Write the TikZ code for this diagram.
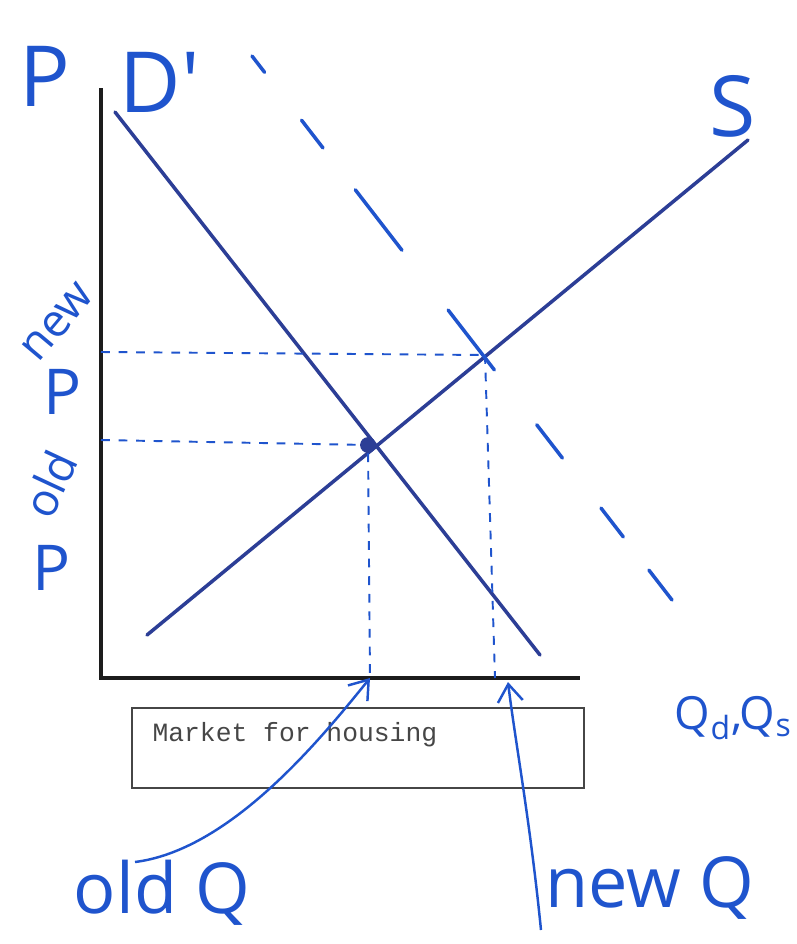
\documentclass[tikz,border=0pt]{standalone}
\usepackage{fontspec}
\newfontfamily\handfont{Open Sans}
\newfontfamily\typefont{Liberation Mono}
\usetikzlibrary{arrows.meta,calc}
\definecolor{Ink}{RGB}{31,84,205}
\definecolor{Navy}{RGB}{44,62,150}
\definecolor{AxisGrey}{RGB}{28,28,28}
\definecolor{BoxGrey}{RGB}{70,70,70}
\tikzset{
  >=Latex,
  axis/.style={draw=AxisGrey,line width=2.2pt},
  curve/.style={draw=Navy,line width=2pt,line cap=round},
  shifted/.style={draw=Ink,line width=2pt,line cap=round},
  guide/.style={draw=Ink,line width=1.1pt,dash pattern=on 5pt off 5pt},
  pen/.style={-{Straight Barb[length=3.5mm,width=5mm]},draw=Ink,line width=1.4pt},
  hand/.style={text=Ink,font=\handfont\fontsize{36}{40}\selectfont,inner sep=0pt},
  bighand/.style={hand,font=\handfont\fontsize{48}{52}\selectfont},
  midhand/.style={hand,font=\handfont\fontsize{40}{44}\selectfont},
  smallhand/.style={hand,font=\handfont\fontsize{26}{30}\selectfont},
  eqdot/.style={circle,fill=Navy,minimum size=9pt,inner sep=0pt},
  caption/.style={draw=BoxGrey,line width=1pt,minimum width=9.04cm,minimum height=1.6cm},
  captext/.style={text=BoxGrey,font=\typefont\fontsize{15}{18}\selectfont,inner sep=0pt}
}
\begin{document}
\begin{tikzpicture}[x=0.02cm,y=-0.02cm]
  \useasboundingbox (0,0) rectangle (796,944);
  % axes
  \coordinate (O) at (101,678);
  \coordinate (Ytop) at (101,88);
  \coordinate (Xend) at (580,678);
  \draw[axis] (Ytop) -- (O) -- (Xend);
  % demand and supply
  \coordinate (D1) at (115,112);
  \coordinate (D2) at (540,655);
  \coordinate (S1) at (147,635);
  \coordinate (S2) at (748,140);
  \draw[curve] (D1) -- (D2);
  \draw[curve] (S1) -- (S2);
  % shifted demand, drawn in pieces
  \coordinate (Dp1) at (252,56);
  \coordinate (Dp2) at (672,600);
  \foreach \a/\b in {0/0.03,0.118/0.169,0.246/0.357,0.467/0.577,0.678/0.739,0.831/0.884,0.945/1}
    \draw[shifted] ($(Dp1)!\a!(Dp2)$) -- ($(Dp1)!\b!(Dp2)$);
  % equilibria
  \coordinate (oldEq) at (368,445);
  \coordinate (newEq) at (485,355);
  \node[eqdot] (oldDot) at (oldEq) {};
  \coordinate (oldP) at (101,440);
  \coordinate (newP) at (101,352);
  \coordinate (oldQ) at (370,678);
  \coordinate (newQ) at (495,678);
  \draw[guide] (newP) -- (newEq);
  \draw[guide] (oldP) -- (oldDot);
  \draw[guide] (oldDot) -- (oldQ);
  \draw[guide] (newEq) -- (newQ);
  % caption box
  \node[caption] (capBox) at (358,748) {};
  \node[captext,anchor=west] (capText) at ($(capBox.west)+(21,-13)$) {Market for housing};
  % handwritten labels
  \node[bighand] (lblP) at (45,76) {P};
  \node[bighand] (lblD) at (160,82) {D'};
  \node[bighand] (lblS) at (733,106) {S};
  \node[smallhand,rotate=50] (lblNew) at (58,322) {new};
  \node[hand] (lblNewP) at (63,392) {P};
  \node[smallhand,rotate=65] (lblOld) at (50,484) {old};
  \node[hand] (lblOldP) at (52,568) {P};
  \node[smallhand,anchor=east] (lblQ) at (792,718) {Q\textsubscript{d},Q\textsubscript{s}};
  \node[midhand] (lblOldQ) at (162,893) {old Q};
  \node[midhand] (lblNewQ) at (650,888) {new Q};
  % pen arrows
  \coordinate (oldTail) at (135,862);
  \coordinate (newTail) at (541,930);
  \draw[pen] (oldTail) .. controls (230,850) and (320,740) .. (oldQ);
  \draw[pen] (newTail) .. controls (530,820) and (515,740) .. (508,682);
\end{tikzpicture}
\end{document}
